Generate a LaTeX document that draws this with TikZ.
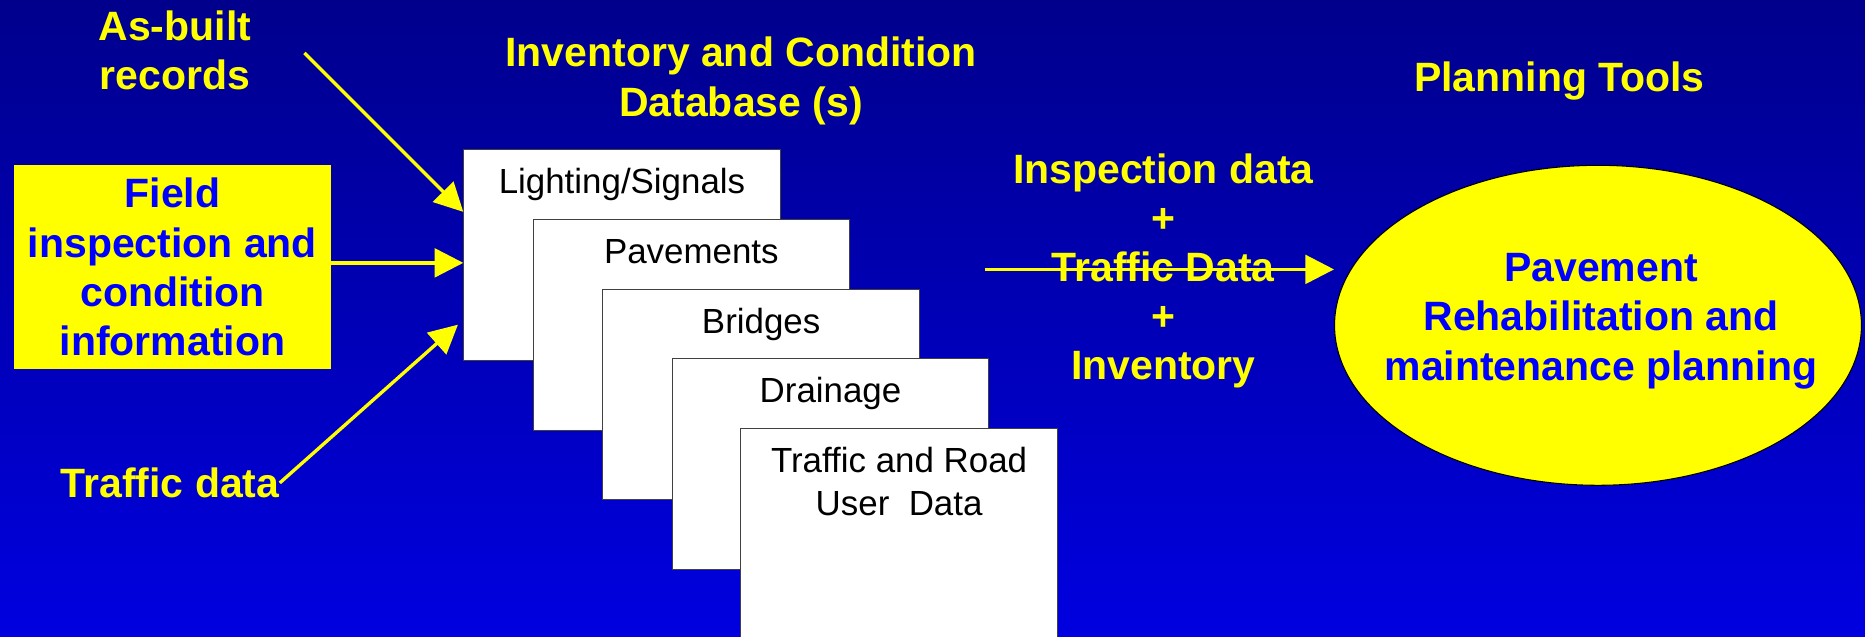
\documentclass[tikz,border=0pt]{standalone}
\usepackage{fontspec}
\setmainfont{Liberation Sans}
\usetikzlibrary{arrows.meta,shapes.geometric}
\definecolor{pmsNavy}{HTML}{00008C}
\definecolor{pmsBlue}{HTML}{0000E0}
\definecolor{pmsYellow}{HTML}{FFFF00}
\definecolor{pmsInk}{HTML}{0000FF}
\newcommand{\pmsbig}{\fontsize{19.6pt}{23.5pt}\selectfont\bfseries}
\newcommand{\pmsbox}{\fontsize{16.7pt}{20.5pt}\selectfont}

\begin{document}
\begin{tikzpicture}[
  dbbox/.style={draw=black!75, line width=0.5pt, fill=white, anchor=north west,
    minimum width=5.32cm, minimum height=3.54cm, inner sep=0pt},
  boxlbl/.style={anchor=base, inner sep=0pt, yshift=-0.75cm, font=\pmsbox, align=center},
  ylw/.style={text=pmsYellow, font=\pmsbig, align=center, inner sep=0pt},
  feed/.style={draw=pmsYellow, line width=1.6pt, -{Triangle[length=0.48cm,width=0.48cm]}},
]
  % Background
  \clip (0,0) rectangle (31.36,10.70);
  \shade[top color=pmsNavy, bottom color=pmsBlue] (0,0) rectangle (31.36,10.70);

  % Data sources
  \node[ylw] (asbuilt) at (2.94,9.85) {As-built\\records};
  \node[fill=pmsYellow, text=pmsInk, font=\pmsbig, align=center, inner sep=0pt,
        minimum width=5.32cm, minimum height=3.42cm] (field) at (2.90,6.21)
        {Field\\inspection and\\condition\\information};
  \node[ylw] (traffic) at (2.86,2.58) {Traffic data};

  % Database stack
  \node[ylw] (dbtitle) at (12.46,9.34) {Inventory and Condition\\Database (s)};
  \node[dbbox, label={[boxlbl]north:Lighting/Signals}] (light) at (7.79,8.188) {};
  \node[dbbox, label={[boxlbl]north:Pavements}] (pave) at (8.956,7.018) {};
  \node[dbbox, label={[boxlbl]north:Bridges}] (bridge) at (10.13,5.846) {};
  \node[dbbox, label={[boxlbl]north:Drainage}] (drain) at (11.296,4.674) {};
  % two-line label sits on its last baseline
  \node[dbbox, label={[boxlbl, yshift=-0.72cm]north:Traffic and Road\\User~ Data}] (road) at (12.45,3.504) {};

  % Inputs into the stack
  \coordinate (asb-tail) at (5.12,9.81);
  \draw[feed] (asb-tail) -- ([yshift=-1.05cm]light.north west);
  \draw[feed] ([yshift=0.07cm]field.east) -- ([yshift=0.07cm]field.east -| light.west);
  \draw[feed] (traffic.east) -- ([xshift=-0.09cm,yshift=0.61cm]light.south west);

  % Planning side
  \node[ylw] (mix) at (19.56,6.148) {Inspection data\\+\\Traffic Data\\+\\Inventory};
  \node[ylw] (tools) at (26.22,9.34) {Planning Tools};
  \node[ellipse, draw=black, line width=0.5pt, fill=pmsYellow, inner sep=0pt,
        minimum width=8.86cm, minimum height=5.38cm] (plan) at (26.87,5.23) {};
  \node[text=pmsInk, font=\pmsbig, align=center, inner sep=0pt] (plantext) at (26.92,5.30)
        {Pavement\\Rehabilitation and\\maintenance planning};

  \coordinate (mix-tail) at (16.56,6.17);
  \draw[feed] (mix-tail) -- (mix-tail -| plan.west);
\end{tikzpicture}
\end{document}
